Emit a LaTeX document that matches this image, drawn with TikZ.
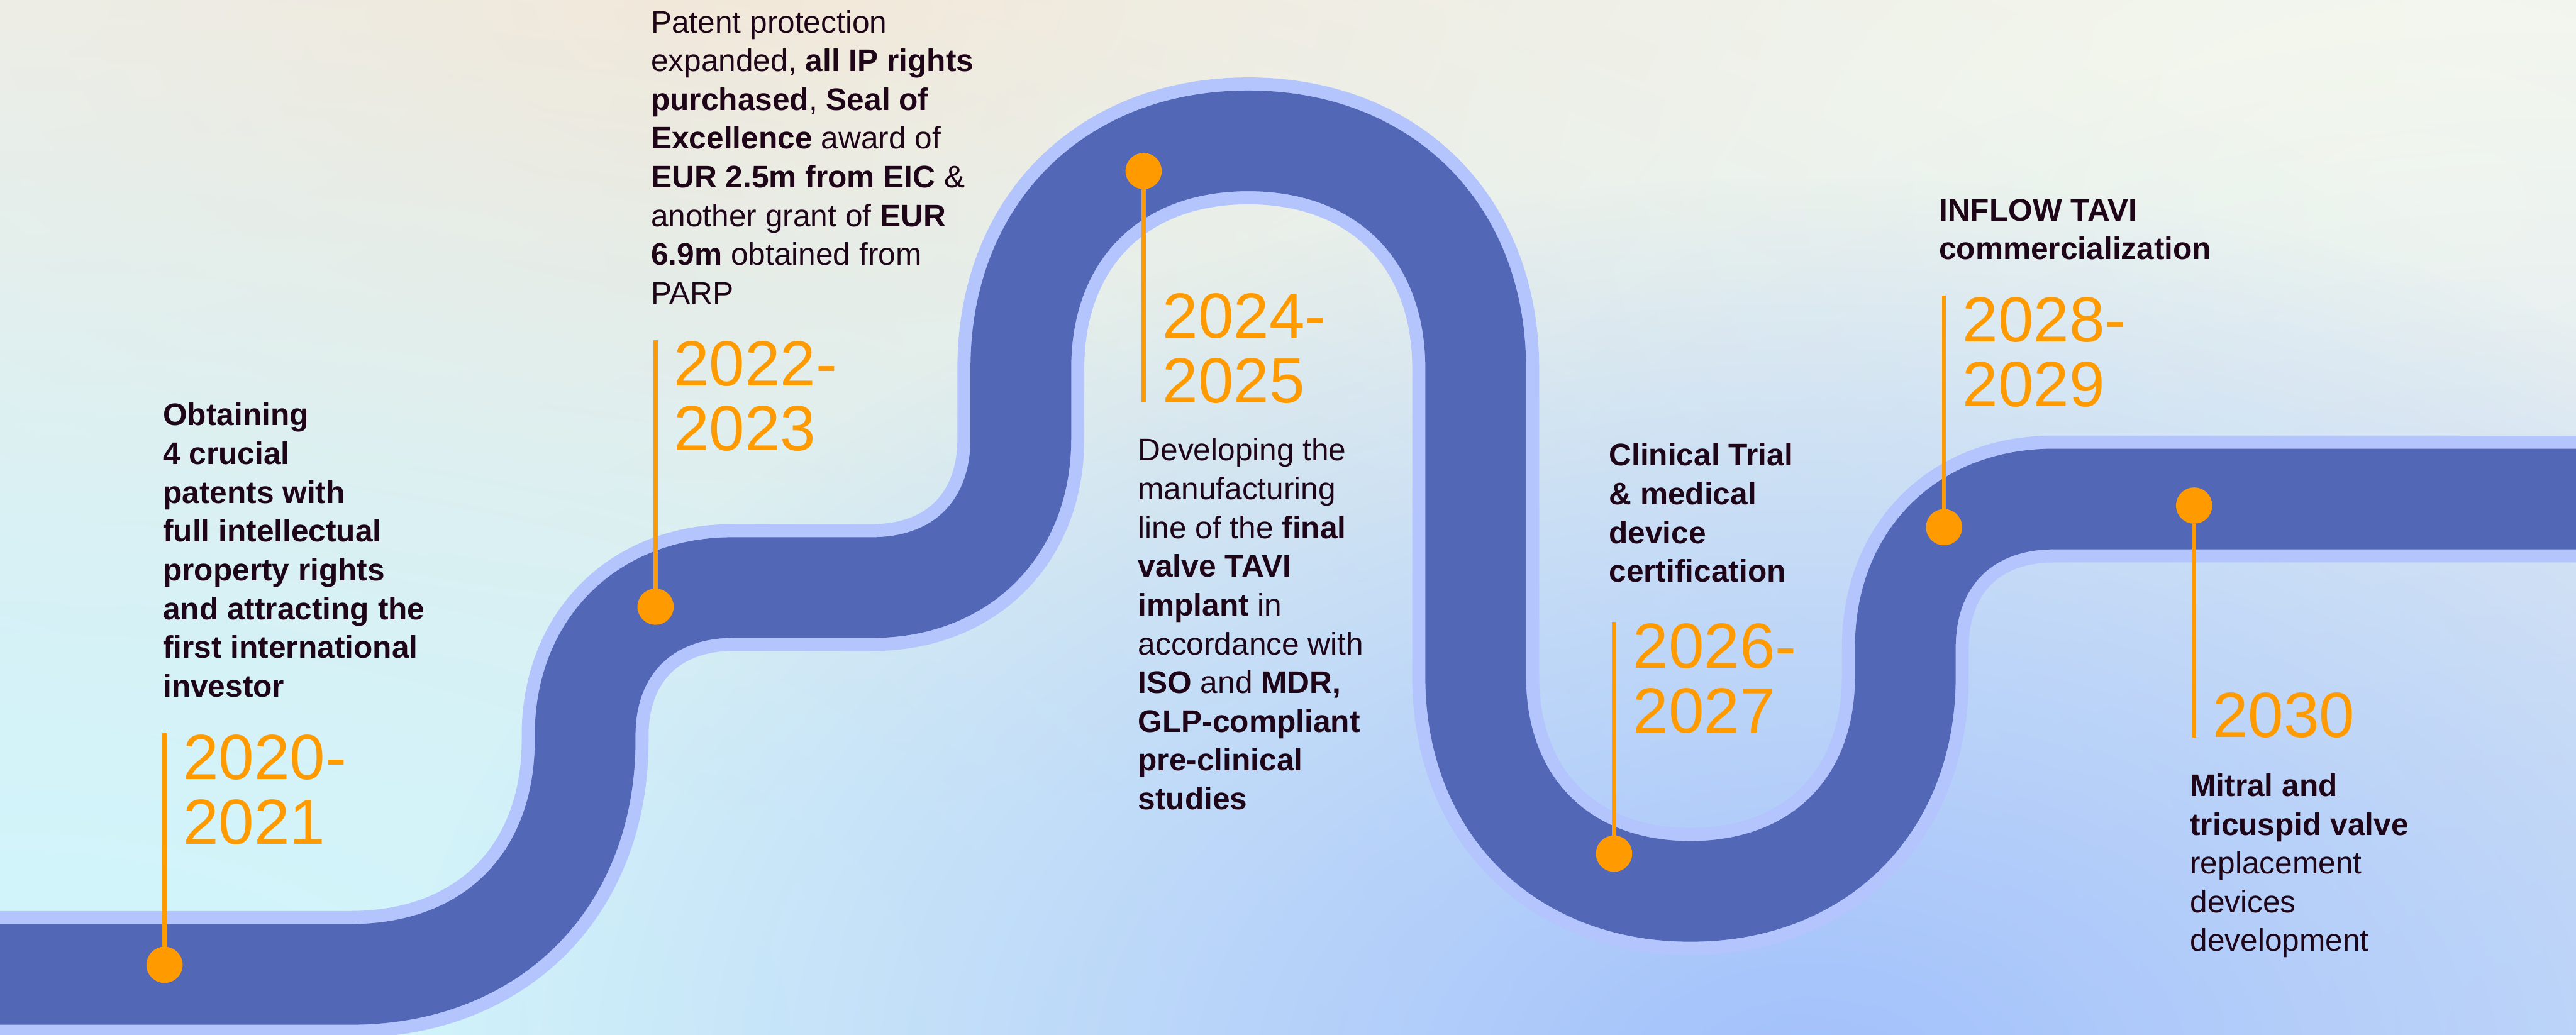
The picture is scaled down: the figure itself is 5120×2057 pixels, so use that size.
\documentclass[tikz,border=0pt]{standalone}
\usepackage{fontspec}
\setmainfont{Liberation Sans}
\usetikzlibrary{fadings}

\definecolor{road}{HTML}{5367B7}
\definecolor{roadlight}{HTML}{B4C4FC}
\definecolor{amber}{HTML}{FF9B00}
\definecolor{ink}{HTML}{1E0618}
\definecolor{bgbase}{HTML}{E6E9EE}
\definecolor{glowpeach}{HTML}{FFE4CE}
\definecolor{glowcyan}{HTML}{CFF6FC}
\definecolor{glowblue}{HTML}{A2C0FC}
\definecolor{glowsky}{HTML}{D3E2F6}
\definecolor{glowmint}{HTML}{F5F9EE}
\definecolor{glowgrey}{HTML}{F4F3F1}

% radial fading: opaque centre, fully clear at half the filled radius
\tikzfading[name=softglow, inner color=transparent!0, outer color=transparent!100]

% left-aligned stack of lines whose baseline is the first line
\newcommand\textlines[1]{\vtop{\halign{##\hfil\cr#1\crcr}}}
\newcommand\bodyfont{\fontsize{17.64pt}{21.91pt}\selectfont}
\newcommand\yearfont{\fontsize{36.1pt}{36.56pt}\selectfont}

\tikzset{
  roadrim/.style={draw=roadlight, line width=71.7pt, line join=round},
  roadbody/.style={draw=road, line width=56.9pt, line join=round},
  blurb/.style={anchor=base west, inner sep=0pt, outer sep=0pt, text=ink, font=\bodyfont},
  yearlabel/.style={anchor=base west, inner sep=0pt, outer sep=0pt, text=amber, font=\yearfont},
  pin/.style={circle, fill=amber, minimum size=0.72cm, inner sep=0pt, outer sep=0pt},
  stem/.style={draw=amber, line width=2.28pt},
  glow/.style={fill=#1, path fading=softglow},
}

\begin{document}
\begin{tikzpicture}[x=0.01cm, y=-0.01cm]
\useasboundingbox (0,0) rectangle (5120,2057);
\begin{scope}
\clip (0,0) rectangle (5120,2057);

% soft multi-tone background
\fill[bgbase] (0,0) rectangle (5120,2057);
\fill[glow=glowgrey] (0,0) ellipse [x radius=2200, y radius=1300];
\fill[glow=glowpeach] (1600,0) ellipse [x radius=3200, y radius=1600];
\fill[glow=glowmint] (4800,400) ellipse [x radius=3600, y radius=2200];
\fill[glow=glowsky] (5120,2057) ellipse [x radius=2800, y radius=2000];
\fill[glow=glowcyan] (0,2057) ellipse [x radius=6000, y radius=2800];
\fill[glow=glowblue] (3600,2150) ellipse [x radius=2800, y radius=1800];

% the winding road: light rim under a dark body
\foreach \sty in {roadrim, roadbody}
  \draw[\sty] (-80,1937) -- (697,1937)
    .. controls (977,1937) and (1163,1751) .. (1163,1471)
    -- (1163,1462)
    .. controls (1163,1286) and (1281,1168) .. (1457,1168)
    -- (1733,1168)
    .. controls (1911,1168) and (2029,1050) .. (2029,872)
    -- (2029,732)
    .. controls (2029,461) and (2210,280) .. (2481,280)
    .. controls (2752,280) and (2933,461) .. (2933,732)
    -- (2933,1345)
    .. controls (2933,1601) and (3104,1772) .. (3360,1772)
    .. controls (3616,1772) and (3787,1601) .. (3787,1345)
    -- (3787,1287)
    .. controls (3787,1110) and (3905,992) .. (4082,992)
    -- (5200,992);
\end{scope}

% milestone pins
\node[pin] (d1) at (327,1918) {};
\node[pin] (d2) at (1303,1206) {};
\node[pin] (d3) at (2273,340) {};
\node[pin] (d4) at (3208,1697) {};
\node[pin] (d5) at (3864,1048) {};
\node[pin] (d6) at (4361,1005) {};

% free ends of the stems
\coordinate (c1) at (327,1457);
\coordinate (c2) at (1303,676);
\coordinate (c3) at (2273,800);
\coordinate (c4) at (3208,1236);
\coordinate (c5) at (3864,587);
\coordinate (c6) at (4361,1466);

\draw[stem] (c1) -- (d1);
\draw[stem] (c2) -- (d2);
\draw[stem] (d3) -- (c3);
\draw[stem] (c4) -- (d4);
\draw[stem] (c5) -- (d5);
\draw[stem] (d6) -- (c6);

% years
\node[yearlabel] (y1) at (364,1549) {\textlines{2020-\cr 2021}};
\node[yearlabel] (y2) at (1339,767) {\textlines{2022-\cr 2023}};
\node[yearlabel] (y3) at (2311,672) {\textlines{2024-\cr 2025}};
\node[yearlabel] (y4) at (3246,1328) {\textlines{2026-\cr 2027}};
\node[yearlabel] (y5) at (3901,679) {\textlines{2028-\cr 2029}};
\node[yearlabel] (y6) at (4398,1466) {2030};

% milestone descriptions
\node[blurb] (t1) at (324,846) {\bfseries\textlines{%
  Obtaining\cr
  4 crucial\cr
  patents with\cr
  full intellectual\cr
  property rights\cr
  and attracting the\cr
  first international\cr
  investor}};

\node[blurb] (t2) at (1294,65) {\textlines{%
  Patent protection\cr
  expanded, \textbf{all IP rights}\cr
  \textbf{purchased}, \textbf{Seal of}\cr
  \textbf{Excellence} award of\cr
  \textbf{EUR 2.5m from EIC} \&\cr
  another grant of \textbf{EUR}\cr
  \textbf{6.9m} obtained from\cr
  PARP}};

\node[blurb] (t3) at (2262,916) {\textlines{%
  Developing the\cr
  manufacturing\cr
  line of the \textbf{final}\cr
  \textbf{valve TAVI}\cr
  \textbf{implant} in\cr
  accordance with\cr
  \textbf{ISO} and \textbf{MDR,}\cr
  \textbf{GLP-compliant}\cr
  \textbf{pre-clinical}\cr
  \textbf{studies}}};

\node[blurb] (t4) at (3198,926) {\bfseries\textlines{%
  Clinical Trial\cr
  \& medical\cr
  device\cr
  certification}};

\node[blurb] (t5) at (3854,439) {\bfseries\textlines{%
  INFLOW TAVI\cr
  commercialization}};

\node[blurb] (t6) at (4353,1583) {\textlines{%
  \textbf{Mitral and}\cr
  \textbf{tricuspid valve}\cr
  replacement\cr
  devices\cr
  development}};
\end{tikzpicture}
\end{document}
